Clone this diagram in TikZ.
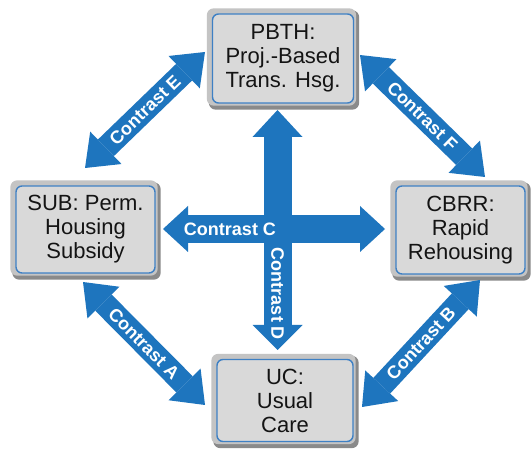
\documentclass[tikz,border=0pt]{standalone}
\usepackage{fontspec}
\setmainfont{Liberation Sans}
\usetikzlibrary{arrows.meta,backgrounds}
\definecolor{arrblue}{RGB}{30,117,190}
\definecolor{edgeblue}{RGB}{62,128,196}
\definecolor{boxfill}{RGB}{217,217,217}
\definecolor{bevlight}{RGB}{196,196,196}
\definecolor{bevdark}{RGB}{138,138,138}
\definecolor{txt}{RGB}{20,20,20}
\begin{document}
\begin{tikzpicture}[x=1pt,y=-1pt,
  box/.style={rounded corners=6pt, fill=boxfill, draw=edgeblue, line width=1.4pt,
    align=center, font=\fontsize{22}{24}\selectfont, text=txt, inner sep=0pt},
  bevl/.style={fill=bevlight, rounded corners=7pt},
  bevd/.style={fill=bevdark, rounded corners=7pt},
  straightarrow/.style={draw=arrblue, line width=28pt,
    arrows={Triangle[length=27pt,width=50pt,line width=0pt]-Triangle[length=25pt,width=50pt,line width=0pt]}},
  flatarrow/.style={draw=arrblue, line width=28pt,
    arrows={Triangle[length=25pt,width=46pt,line width=0pt]-Triangle[length=25pt,width=46pt,line width=0pt]}},
  diagarrow/.style={draw=arrblue, line width=23pt,
    arrows={Triangle[length=29pt,width=45pt,line width=0pt]-Triangle[length=29pt,width=45pt,line width=0pt]}},
  lbl/.style={text=white, font=\bfseries\fontsize{18}{20}\selectfont, inner sep=0pt}
]
\useasboundingbox (0,0) rectangle (531,449);

% boxes
\node[box, minimum width=141pt, minimum height=89pt] (pbth) at (283,58.5) {PBTH:\\Proj.-Based\\Trans. Hsg.};
\node[box, minimum width=139pt, minimum height=87pt] (sub) at (85.5,229.5) {SUB: Perm.\\Housing\\Subsidy};
\node[box, minimum width=129pt, minimum height=88pt] (cbrr) at (460.5,230) {CBRR:\\Rapid\\Rehousing};
\node[box, minimum width=136pt, minimum height=82pt] (uc) at (285,400.5) {UC:\\Usual\\Care};

\begin{scope}[on background layer]
  \fill[white] (0,0) rectangle (531,449);
  \foreach \n in {pbth,sub,cbrr,uc}{
    \path[bevd] ([shift={(-3,-3)}]\n.north west) rectangle ([shift={(5,6)}]\n.south east);
    \path[bevl] ([shift={(-5,-5)}]\n.north west) rectangle ([shift={(2,2)}]\n.south east);
  }
\end{scope}

% arrow end points
\coordinate (vT) at (277.5,110);
\coordinate (vB) at (277.5,350);
\coordinate (hL) at (163,229);
\coordinate (hR) at (385,229);
\coordinate (eSW) at (85,168);
\coordinate (eNE) at (205,52);
\coordinate (fNW) at (360,55);
\coordinate (fSE) at (485,177);
\coordinate (aNW) at (83,282);
\coordinate (aSE) at (205,405);
\coordinate (bNE) at (480,280);
\coordinate (bSW) at (362,407);

% arrows
\draw[straightarrow] (vT) -- (vB);
\draw[flatarrow] (hL) -- (hR);
\draw[diagarrow] (eSW) -- (eNE);
\draw[diagarrow] (fNW) -- (fSE);
\draw[diagarrow] (aNW) -- (aSE);
\draw[diagarrow] (bSW) -- (bNE);

% labels
\path (eSW) -- (eNE) node[lbl, sloped, midway] (le) {Contrast E};
\path (fNW) -- (fSE) node[lbl, sloped, midway] (lf) {Contrast F};
\path (aNW) -- (aSE) node[lbl, sloped, midway] (la) {Contrast A};
\path (bSW) -- (bNE) node[lbl, sloped, midway] (lb) {Contrast B};
\node[lbl] (lc) at (230,229) {Contrast C};
\node[lbl, rotate=-90] (ld) at (277.5,294) {Contrast D};
\end{tikzpicture}
\end{document}
